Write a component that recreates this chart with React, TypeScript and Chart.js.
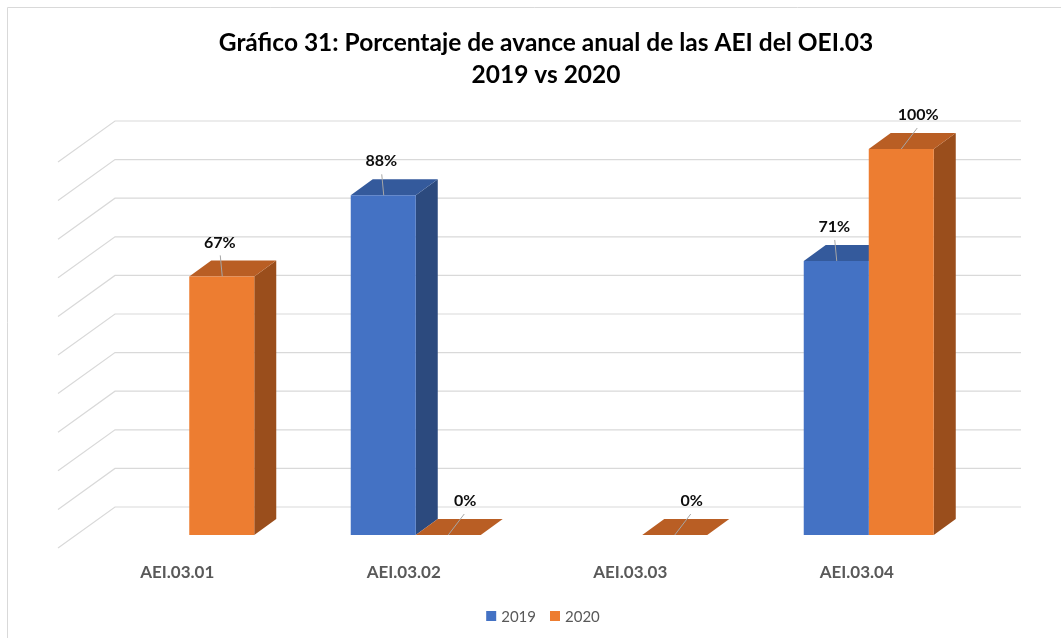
import React, { useEffect, useRef } from "react";
import { Chart, registerables } from "chart.js";

Chart.register(...registerables);

// ---- data ----
const categories = ["AEI.03.01", "AEI.03.02", "AEI.03.03", "AEI.03.04"];
const seriesNames = ["2019", "2020"];
const values2019: (number | null)[] = [null, 88, null, 71];
const values2020: (number | null)[] = [67, 0, 0, 100];
const yTickValues = [0, 10, 20, 30, 40, 50, 60, 70, 80, 90, 100];
const titleLines = [
  "Gráfico 31: Porcentaje de avance anual de las AEI del OEI.03",
  "2019 vs 2020",
];

// ---- styles ----
const FRONT = ["#4472c4", "#ed7d31"];
const TOP = ["#345a9c", "#b95e24"];
const SIDE = ["#2c4a7e", "#9a4e1c"];
const DEPTH_DX = 22;
const DEPTH_DY = -16;
const BACK_DX = 39;
const BACK_DY = -28;
const FRONT_DX = -18;
const FRONT_DY = 13;
const GRID = "#d9d9d9";
const FONT = "Lato, 'Open Sans', sans-serif";

const threeD = {
  id: "threeD",
  beforeDraw(chart: any) {
    const ctx = chart.ctx;
    ctx.save();
    ctx.strokeStyle = GRID;
    ctx.lineWidth = 1;
    ctx.beginPath();
    ctx.moveTo(7.5, chart.height);
    ctx.lineTo(7.5, 7.5);
    ctx.lineTo(chart.width, 7.5);
    ctx.stroke();
    ctx.restore();
  },
  beforeDatasetsDraw(chart: any) {
    const ctx = chart.ctx;
    const { left, right } = chart.chartArea;
    const ys = chart.scales.y;
    ctx.save();
    ctx.strokeStyle = GRID;
    ctx.lineWidth = 1.2;
    for (const v of yTickValues) {
      const y = ys.getPixelForValue(v);
      ctx.beginPath();
      ctx.moveTo(left + FRONT_DX, y + FRONT_DY);
      ctx.lineTo(left + BACK_DX, y + BACK_DY);
      ctx.lineTo(right + BACK_DX, y + BACK_DY);
      ctx.stroke();
    }
    chart.data.datasets.forEach((ds: any, di: number) => {
      const meta = chart.getDatasetMeta(di);
      meta.data.forEach((el: any, i: number) => {
        const v = ds.data[i];
        if (v === null || v === undefined) return;
        const { x, y, base, width } = el.getProps(["x", "y", "base", "width"], true);
        const x0 = x - width / 2;
        const x1 = x + width / 2;
        ctx.fillStyle = SIDE[di];
        ctx.beginPath();
        ctx.moveTo(x1, y);
        ctx.lineTo(x1 + DEPTH_DX, y + DEPTH_DY);
        ctx.lineTo(x1 + DEPTH_DX, base + DEPTH_DY);
        ctx.lineTo(x1, base);
        ctx.closePath();
        ctx.fill();
        ctx.fillStyle = TOP[di];
        ctx.beginPath();
        ctx.moveTo(x0, y);
        ctx.lineTo(x0 + DEPTH_DX, y + DEPTH_DY);
        ctx.lineTo(x1 + DEPTH_DX, y + DEPTH_DY);
        ctx.lineTo(x1, y);
        ctx.closePath();
        ctx.fill();
      });
    });
    ctx.restore();
  },
  afterDatasetsDraw(chart: any) {
    const ctx = chart.ctx;
    const max = chart.scales.y.max;
    ctx.save();
    chart.data.datasets.forEach((ds: any, di: number) => {
      const meta = chart.getDatasetMeta(di);
      meta.data.forEach((el: any, i: number) => {
        const v = ds.data[i];
        if (v === null || v === undefined) return;
        const { x, y } = el.getProps(["x", "y"], true);
        const shifted = v === 0 || v >= max;
        const lx = shifted ? x + 17 : x - 2;
        const ly = y - 34;
        ctx.strokeStyle = "#a6a6a6";
        ctx.lineWidth = 1;
        ctx.beginPath();
        ctx.moveTo(shifted ? x + 16 : x - 1.5, y - 21);
        ctx.lineTo(shifted ? x : x + 0.5, y);
        ctx.stroke();
        ctx.fillStyle = "#0d0d0d";
        ctx.font = `bold 16px ${FONT}`;
        ctx.textAlign = "center";
        ctx.textBaseline = "middle";
        ctx.fillText(`${v}%`, lx, ly);
      });
    });
    ctx.restore();
  },
  afterDraw(chart: any) {
    const ctx = chart.ctx;
    ctx.save();
    ctx.fillStyle = "#000000";
    ctx.font = `bold 24.5px ${FONT}`;
    ctx.textAlign = "center";
    ctx.textBaseline = "middle";
    titleLines.forEach((t, i) => ctx.fillText(t, 546, 43 + i * 32));
    ctx.font = `15px ${FONT}`;
    ctx.textBaseline = "middle";
    ctx.textAlign = "left";
    const box = 10;
    const gapBox = 5;
    const gapItem = 14;
    const items = chart.data.datasets.map((ds: any) => ({
      label: ds.label,
      color: ds.backgroundColor,
      w: ctx.measureText(ds.label).width,
    }));
    const total = items.reduce((s: number, it: any, k: number) => s + box + gapBox + it.w + (k ? gapItem : 0), 0);
    let cx = 543 - total / 2;
    const cy = 616;
    items.forEach((it: any) => {
      ctx.fillStyle = it.color;
      ctx.fillRect(cx, cy - box / 2, box, box);
      ctx.fillStyle = "#595959";
      ctx.fillText(it.label, cx + box + gapBox, cy + 1);
      cx += box + gapBox + it.w + gapItem;
    });
    ctx.restore();
  },
};

export default function App() {
  const ref = useRef<HTMLCanvasElement | null>(null);
  useEffect(() => {
    document.body.style.margin = "0";
    const canvas = ref.current;
    if (!canvas) return;
    const chart = new Chart(canvas, {
      type: "bar",
      data: {
        labels: categories,
        datasets: [
          { label: seriesNames[0], data: values2019, backgroundColor: FRONT[0], borderWidth: 0 },
          { label: seriesNames[1], data: values2020, backgroundColor: FRONT[1], borderWidth: 0 },
        ],
      },
      options: {
        responsive: false,
        animation: false,
        devicePixelRatio: 1,
        layout: { padding: { top: 149, left: 76, right: 79, bottom: 43 } },
        datasets: {
          bar: { categoryPercentage: 0.574, barPercentage: 1 },
        },
        plugins: {
          legend: { display: false },
          title: { display: false },
          tooltip: { enabled: false },
        },
        scales: {
          x: {
            grid: { display: false, drawTicks: false },
            border: { display: false },
            ticks: {
              color: "#595959",
              font: { family: FONT, size: 17, weight: "bold" },
              padding: 27,
              labelOffset: -12,
              maxRotation: 0,
            },
            afterFit: (s: any) => {
              s.height = 60;
            },
          },
          y: {
            display: false,
            min: 0,
            max: 100,
            ticks: { stepSize: 10 },
          },
        },
      },
      plugins: [threeD],
    } as any);
    return () => chart.destroy();
  }, []);
  return <canvas ref={ref} width={1061} height={638} style={{ display: "block" }} />;
}
